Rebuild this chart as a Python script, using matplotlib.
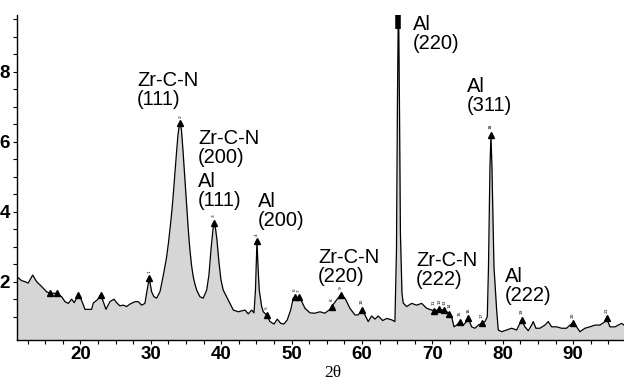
import matplotlib
matplotlib.use("Agg")
import matplotlib.pyplot as plt
import numpy as np

# ---- data (2theta in degrees, intensity in axis units) ----
two_theta = [11.05, 11.65, 12.12, 12.58, 13.21, 13.78, 14.49, 15.20, 15.67, 16.62,
             17.33, 17.80, 18.27, 18.75, 19.12, 19.46, 19.69, 19.93, 20.31, 20.64,
             21.59, 21.82, 22.39, 22.87, 23.24, 23.62, 24.19, 24.76, 25.23, 25.61,
             26.08, 26.56, 27.03, 27.74, 28.21, 28.69, 29.16, 29.40, 29.77, 30.11,
             30.44, 30.82, 31.29, 31.58, 31.86, 32.22, 32.50, 32.78, 33.00, 33.21,
             33.42, 33.64, 33.85, 34.03, 34.18, 34.35, 34.56, 34.84, 35.13, 35.34,
             35.55, 35.77, 36.02, 36.26, 36.51, 36.97, 37.44, 37.93, 38.25, 38.54,
             38.82, 38.96, 39.18, 39.39, 39.67, 39.96, 40.28, 40.99, 41.71, 42.42,
             43.37, 43.84, 44.32, 44.65, 44.86, 45.07, 45.28, 45.40, 45.74, 45.97,
             46.45, 46.92, 47.49, 47.96, 48.44, 48.91, 49.38, 49.86, 50.23, 50.47,
             50.75, 51.04, 51.25, 51.89, 52.60, 53.31, 54.02, 54.73, 55.44, 55.68,
             56.39, 56.96, 57.57, 58.28, 58.99, 59.46, 59.94, 60.41, 60.88, 61.36,
             61.83, 62.30, 62.93, 63.50, 64.21, 64.67, 64.89, 65.03, 65.17, 65.31,
             65.45, 65.67, 65.85, 66.34, 67.05, 67.76, 68.47, 69.18, 69.89, 70.36,
             71.07, 71.78, 72.25, 72.73, 73.06, 73.44, 73.91, 74.38, 74.86, 75.09,
             75.57, 76.04, 76.51, 76.99, 77.46, 77.79, 77.96, 78.17, 78.31, 78.45,
             78.74, 79.12, 79.35, 79.83, 80.54, 81.25, 81.96, 82.43, 82.67, 83.14,
             83.61, 84.09, 84.32, 84.70, 85.27, 85.98, 86.45, 86.93, 87.64, 88.35,
             89.06, 89.53, 89.92, 90.48, 90.95, 91.66, 92.37, 93.08, 93.80, 94.51,
             94.74, 95.22, 95.93, 96.40, 96.88, 97.21]
intensity = [2.13, 2.03, 2.00, 1.96, 2.19, 2.00, 1.86, 1.71, 1.67, 1.67,
             1.57, 1.43, 1.38, 1.50, 1.40, 1.53, 1.62, 1.57, 1.39, 1.21,
             1.21, 1.39, 1.48, 1.62, 1.43, 1.21, 1.43, 1.50, 1.38, 1.31,
             1.33, 1.29, 1.36, 1.43, 1.43, 1.33, 1.38, 1.68, 2.10, 1.71,
             1.57, 1.53, 1.71, 1.99, 2.28, 2.68, 3.11, 3.62, 4.05, 4.56,
             5.11, 5.68, 6.19, 6.45, 6.53, 6.33, 5.76, 4.91, 4.05, 3.42,
             2.91, 2.48, 2.14, 1.93, 1.76, 1.57, 1.53, 1.76, 2.19, 2.91,
             3.48, 3.68, 3.53, 3.19, 2.56, 2.05, 1.76, 1.48, 1.19, 1.14,
             1.19, 1.08, 1.19, 1.11, 1.76, 3.16, 2.19, 1.76, 1.29, 1.14,
             1.05, 0.86, 0.79, 0.93, 0.81, 0.79, 0.91, 1.19, 1.53, 1.57,
             1.51, 1.55, 1.51, 1.24, 1.11, 1.10, 1.14, 1.10, 1.21, 1.29,
             1.48, 1.62, 1.53, 1.24, 1.05, 1.05, 1.19, 1.05, 0.86, 1.02,
             0.93, 1.02, 0.89, 0.95, 0.91, 0.86, 2.91, 7.19, 10.2, 7.19,
             3.39, 1.68, 1.39, 1.29, 1.38, 1.33, 1.38, 1.24, 1.19, 1.17,
             1.21, 1.17, 1.11, 1.00, 0.71, 0.76, 0.86, 0.76, 0.86, 0.95,
             0.71, 0.67, 0.76, 0.81, 0.86, 1.00, 2.42, 5.28, 6.19, 5.28,
             2.42, 1.19, 0.62, 0.57, 0.62, 0.67, 0.62, 0.81, 0.91, 0.71,
             0.60, 0.76, 0.86, 0.67, 0.67, 0.76, 0.86, 0.71, 0.71, 0.67,
             0.67, 0.76, 0.81, 0.71, 0.57, 0.67, 0.71, 0.76, 0.76, 0.86,
             0.95, 0.71, 0.71, 0.76, 0.81, 0.76]

# numbered peak markers
peak_ids = ["1", "2", "3", "4", "5", "6", "7", "8", "9", "10", "11", "12", "13",
            "14", "15", "16", "17", "18", "19", "20", "21"]
peak_x = [29.77, 34.18, 38.96, 45.07, 46.45, 50.47, 51.04, 55.68, 56.96, 59.94,
          70.20, 71.00, 71.70, 72.40, 73.91, 75.09, 76.99, 78.31, 82.67, 89.92, 94.74]
peak_y = [2.10, 6.53, 3.68, 3.16, 1.05, 1.57, 1.55, 1.29, 1.62, 1.19,
          1.17, 1.21, 1.18, 1.08, 0.86, 0.95, 0.81, 6.19, 0.91, 0.81, 0.95]
# unnumbered markers at low angle
extra_x = [15.67, 16.62, 19.69, 22.87]
extra_y = [1.67, 1.67, 1.62, 1.62]
# strongest peak (clipped at the top)
top_peak_x = 65.17

# phase annotations
ann_text = ["Zr-C-N\n(111)", "Zr-C-N\n(200)", "Al\n(111)", "Al\n(200)",
            "Zr-C-N\n(220)", "Al\n(220)", "Zr-C-N\n(222)", "Al\n(311)", "Al\n(222)"]
ann_x = [28.03, 36.69, 36.69, 45.21, 53.74, 67.23, 67.66, 74.90, 80.30]
ann_y = [7.48, 5.83, 4.59, 4.01, 2.43, 9.08, 2.33, 7.31, 1.88]

x_major = [20, 30, 40, 50, 60, 70, 80, 90]
y_major = [2, 4, 6, 8]
y_major_labels = ["2", "4", "6", "8"]

XMIN, XMAX = 11.0, 97.21
YMIN, YMAX = 0.334, 9.62

fig = plt.figure(figsize=(6.24, 3.8), dpi=100)
ax = fig.add_axes([17.1 / 624, 40 / 380, (624 - 17.1) / 624, 325 / 380])
ax.set_xlim(XMIN, XMAX)
ax.set_ylim(YMIN, YMAX)

ax.fill_between(two_theta, intensity, YMIN, color="#d6d6d6", lw=0, zorder=1)
ax.plot(two_theta, intensity, color="black", lw=0.9, zorder=3)

ax.plot(peak_x, peak_y, linestyle="none", marker="^", ms=4.5, color="black", zorder=4)
ax.plot(extra_x, extra_y, linestyle="none", marker="^", ms=4.5, color="black", zorder=4)
for px, py, lab in zip(peak_x, peak_y, peak_ids):
    ax.annotate(lab, (px, py), xytext=(0, 4), textcoords="offset points",
                rotation=90, ha="center", va="bottom", fontsize=3.2, zorder=5)
ax.plot([top_peak_x, top_peak_x], [YMAX - 0.4, YMAX], color="black", lw=4,
        solid_capstyle="butt", zorder=5, clip_on=False)

for t, x, y in zip(ann_text, ann_x, ann_y):
    ax.text(x, y, t, fontsize=14.5, family="Liberation Sans", ha="left", va="center",
            linespacing=1.0, zorder=6)

for s in ["top", "right"]:
    ax.spines[s].set_visible(False)
ax.spines["left"].set_linewidth(1.0)
ax.spines["bottom"].set_linewidth(1.0)

ax.set_xticks(x_major)
ax.set_xticks(np.arange(12.5, 97.5, 2.5), minor=True)
ax.set_xticklabels([str(v) for v in x_major], fontsize=13.5, fontweight="bold",
                   family="Liberation Sans")
ax.set_yticks(y_major)
ax.set_yticks(np.arange(1.0, 9.6, 0.5), minor=True)
ax.set_yticklabels(y_major_labels, fontsize=13.5, fontweight="bold",
                   family="Liberation Sans")
ax.tick_params(axis="both", which="both", direction="out", length=3, width=0.8)
ax.tick_params(axis="x", pad=1.5)
ax.tick_params(axis="y", pad=2)

fig.text(333 / 624, 1 - 373 / 380, "2θ", fontsize=12.5, family="Liberation Serif",
         ha="center", va="center")

fig.savefig("out.png", dpi=100)
